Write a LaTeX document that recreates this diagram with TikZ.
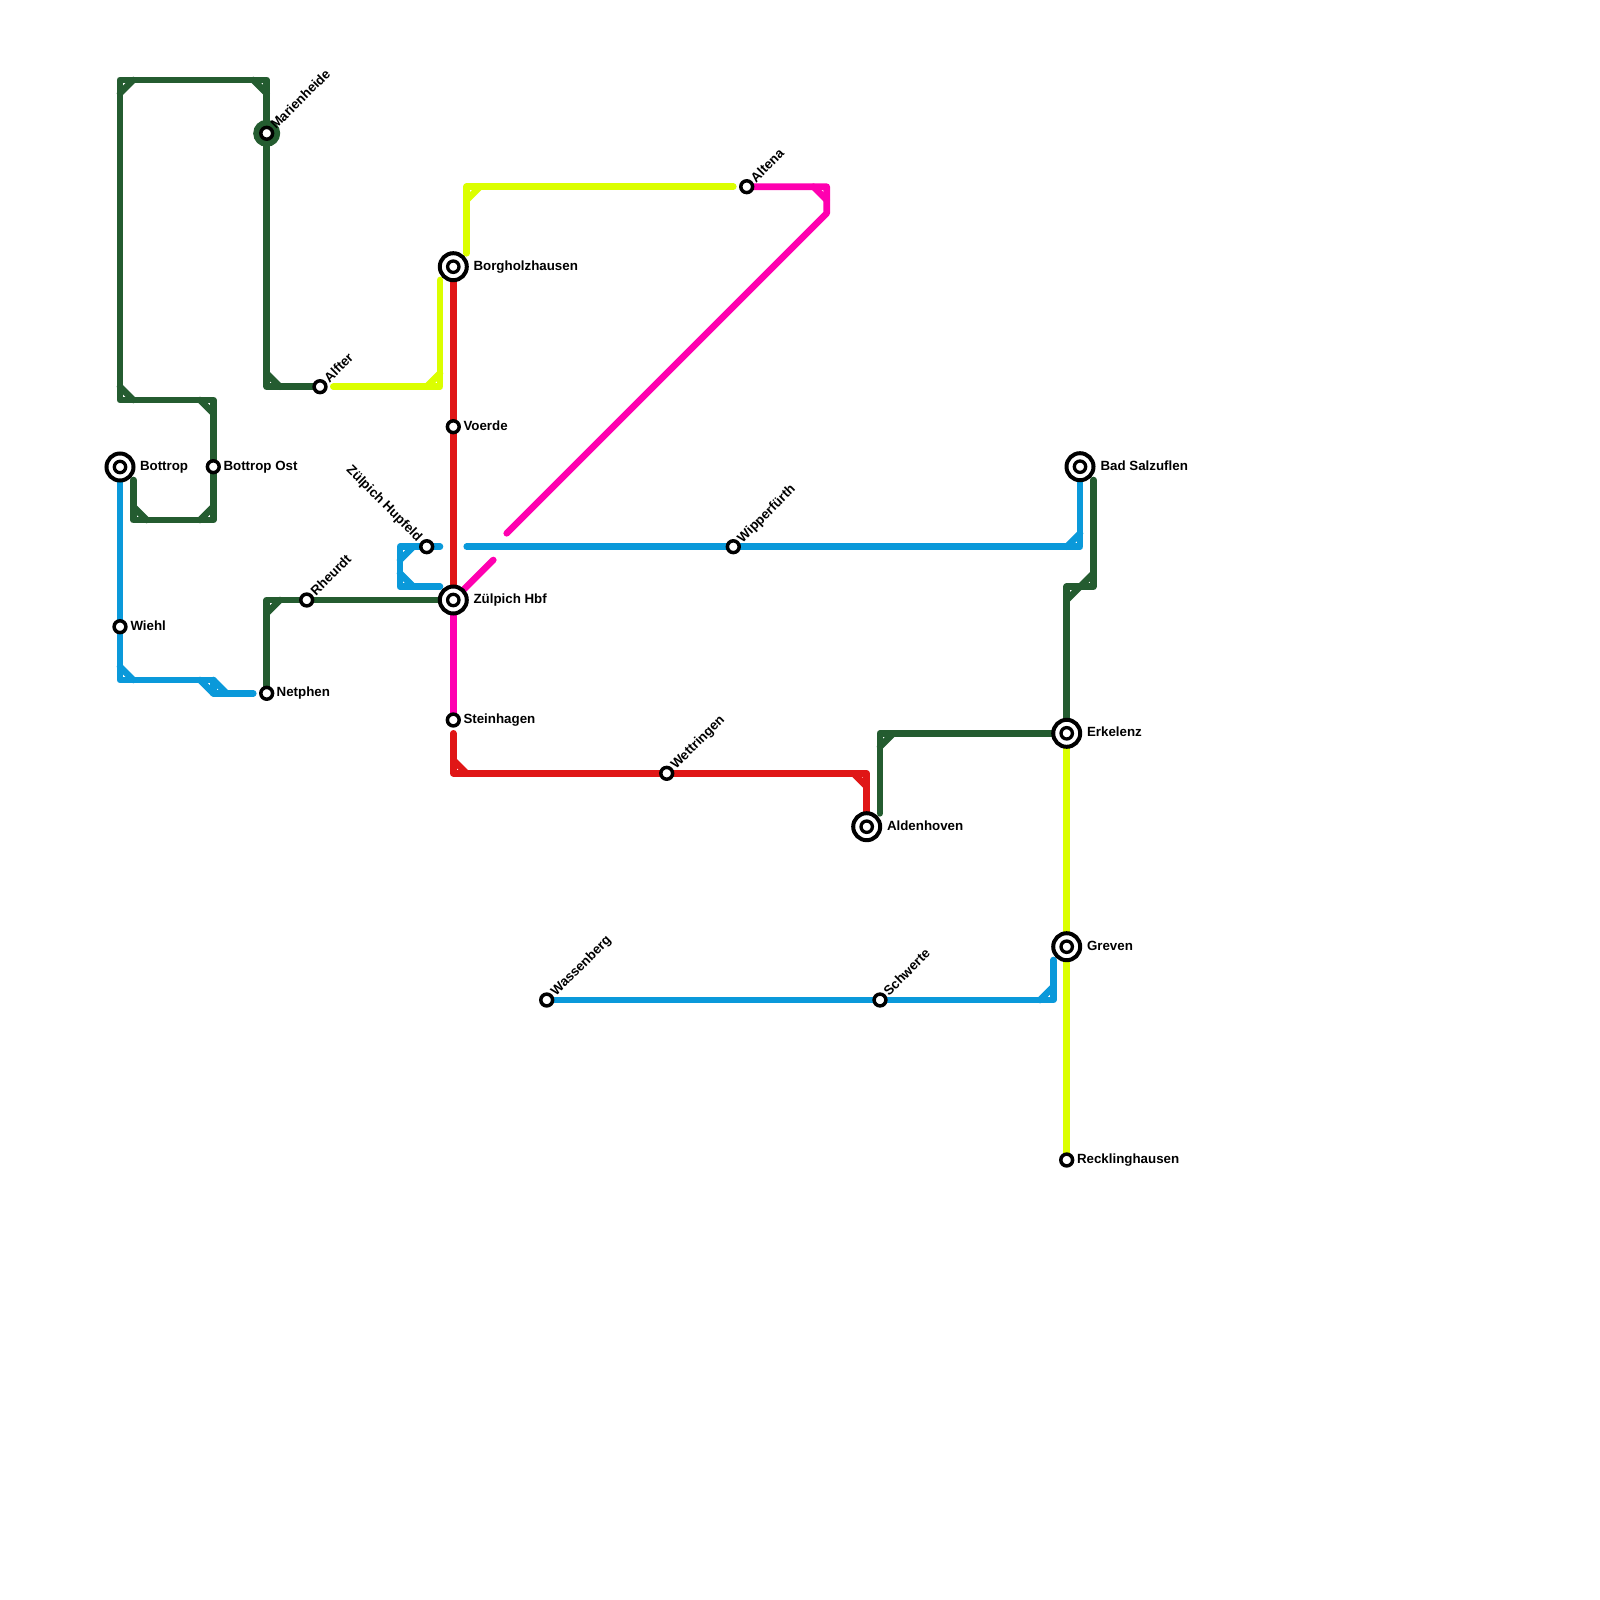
\documentclass[tikz,border=0pt]{standalone}
\usepackage{fontspec}
\setmainfont{Liberation Sans}
\usetikzlibrary{calc}
\pgfdeclarelayer{lines}
\pgfsetlayers{lines,main}
\definecolor{lgreen}{HTML}{245C30}
\definecolor{lblue}{HTML}{0A99DA}
\definecolor{lred}{HTML}{E01616}
\definecolor{lpink}{HTML}{FF00B0}
\definecolor{lyellow}{HTML}{DBFF00}
\tikzset{
  x=1pt,y=-1pt,
  metro/.style={line width=6.6pt,line cap=round,line join=round},
  stn/.style={circle,draw=black,fill=white,line width=3.5pt,minimum size=11.8pt,inner sep=0pt,outer sep=0pt},
  hub/.style={circle,draw=black,fill=white,line width=4pt,minimum size=27pt,inner sep=0pt,outer sep=0pt,
    path picture={\draw[line width=3.3pt,black,fill=white] (path picture bounding box.center) circle[radius=5.7pt];}},
  greenhub/.style={circle,draw=lgreen,fill=lgreen,line width=1pt,minimum size=26pt,inner sep=0pt,outer sep=0pt,
    path picture={\draw[line width=3.5pt,black,fill=white] (path picture bounding box.center) circle[radius=5.9pt];}},
  lbl/.style={font=\bfseries\fontsize{13.33}{15}\selectfont,text=black,inner sep=0pt,outer sep=0pt,anchor=base west},
  lblup/.style={lbl,rotate=45},
  lbldown/.style={font=\bfseries\fontsize{13.33}{15}\selectfont,text=black,inner sep=0pt,outer sep=0pt,anchor=base east,rotate=-45},
}
\newcommand{\chord}[4]{\draw[metro,#1] ($(#2)+(#3)$) -- ($(#2)+(#4)$);}
\begin{document}
\begin{tikzpicture}
\useasboundingbox (0,0) rectangle (1600,1600);
% stations
\node[hub] (bottrop) at (120,467) {};
\node[greenhub] (marien) at (266.7,133.3) {};
\node[stn] (bottost) at (213.3,466.7) {};
\node[stn] (wiehl) at (120,626.7) {};
\node[stn] (netphen) at (266.7,693.3) {};
\node[stn] (rheurdt) at (306.7,600) {};
\node[stn] (alfter) at (320,386.7) {};
\node[stn] (hupfeld) at (426.7,546.7) {};
\node[hub] (hbf) at (453.3,600) {};
\node[hub] (borg) at (453.3,266.7) {};
\node[stn] (voerde) at (453.3,426.7) {};
\node[stn] (stein) at (453.3,720) {};
\node[stn] (wassen) at (546.7,1000) {};
\node[stn] (wett) at (666.7,773.3) {};
\node[stn] (altena) at (746.7,186.7) {};
\node[stn] (wipper) at (733.3,546.7) {};
\node[stn] (schwerte) at (880,1000) {};
\node[hub] (alden) at (866.7,826.7) {};
\node[hub] (erkelenz) at (1066.7,733.3) {};
\node[hub] (greven) at (1066.7,946.7) {};
\node[stn] (reck) at (1066.7,1160) {};
\node[hub] (salz) at (1080,466.7) {};
% labels
\node[lbl] (t1) at (140,470) {Bottrop};
\node[lbl] (t2) at (223.5,470) {Bottrop Ost};
\node[lbl] (t3) at (130.5,630) {Wiehl};
\node[lbl] (t4) at (276.7,696.6) {Netphen};
\node[lbl] (t5) at (473.5,270) {Borgholzhausen};
\node[lbl] (t6) at (463.5,430) {Voerde};
\node[lbl] (t7) at (473.5,603.3) {Zülpich Hbf};
\node[lbl] (t8) at (463.5,723.3) {Steinhagen};
\node[lbl] (t9) at (887,830) {Aldenhoven};
\node[lbl] (t10) at (1087,736.6) {Erkelenz};
\node[lbl] (t11) at (1087,950) {Greven};
\node[lbl] (t12) at (1077,1163.3) {Recklinghausen};
\node[lbl] (t13) at (1100.5,470) {Bad Salzuflen};
\node[lblup] (t14) at (276,130) {Marienheide};
\node[lblup] (t15) at (316,596.5) {Rheurdt};
\node[lblup] (t16) at (329.5,383) {Alfter};
\node[lblup] (t17) at (556,996.5) {Wassenberg};
\node[lblup] (t18) at (676,769.8) {Wettringen};
\node[lblup] (t19) at (756,183) {Altena};
\node[lblup] (t20) at (742.6,543.2) {Wipperfürth};
\node[lblup] (t21) at (889,996.5) {Schwerte};
\node[lbldown] (t22) at (417,542) {Zülpich Hupfeld};
% free ends and corners
\coordinate (ga) at (266.7,80);
\coordinate (gb) at (120,80);
\coordinate (gc) at (120,400);
\coordinate (gd) at (213.3,400);
\coordinate (ge) at (213.3,520);
\coordinate (gf) at (133.3,520);
\coordinate (gg) at (133.3,480);
\coordinate (gh) at (266.7,386.7);
\coordinate (gi) at (266.7,600);
\coordinate (gj) at (1093.3,480);
\coordinate (gk) at (1093.3,586.7);
\coordinate (gl) at (1066.7,586.7);
\coordinate (gm) at (880,733.3);
\coordinate (gn) at (880,813.3);
\coordinate (ba) at (120,680);
\coordinate (bb) at (213.3,680);
\coordinate (bc) at (213.3,693.3);
\coordinate (bd) at (253.3,693.3);
\coordinate (be) at (440,546.7);
\coordinate (bf) at (400,546.7);
\coordinate (bg) at (400,586.7);
\coordinate (bh) at (440,586.7);
\coordinate (bi) at (466.7,546.7);
\coordinate (bj) at (1080,546.7);
\coordinate (bk) at (1053.3,1000);
\coordinate (bl) at (1053.3,960);
\coordinate (ya) at (333.3,386.7);
\coordinate (yb) at (440,386.7);
\coordinate (yc) at (440,280);
\coordinate (yd) at (466.7,253.3);
\coordinate (ye) at (466.7,186.7);
\coordinate (yf) at (733.3,186.7);
\coordinate (ra) at (453.3,733.3);
\coordinate (rb) at (453.3,773.3);
\coordinate (rc) at (866.7,773.3);
\coordinate (pa) at (493.3,560);
\coordinate (pb) at (506.7,533.3);
\coordinate (pc) at (826.7,213.3);
\coordinate (pd) at (826.7,186.7);
\begin{pgfonlayer}{lines}
% green
\draw[metro,lgreen] (marien) -- (ga) -- (gb) -- (gc) -- (gd) -- (bottost) -- (ge) -- (gf) -- (gg);
\chord{lgreen}{ga}{-13.3,0}{0,13.3}
\chord{lgreen}{gb}{13.3,0}{0,13.3}
\chord{lgreen}{gc}{0,-13.3}{13.3,0}
\chord{lgreen}{gd}{-13.3,0}{0,13.3}
\chord{lgreen}{ge}{0,-13.3}{-13.3,0}
\chord{lgreen}{gf}{0,-13.3}{13.3,0}
\draw[metro,lgreen] (marien) -- (gh) -- (alfter);
\chord{lgreen}{gh}{0,-13.3}{13.3,0}
\draw[metro,lgreen] (netphen) -- (gi) -- (rheurdt) -- (hbf);
\chord{lgreen}{gi}{0,13.3}{13.3,0}
\draw[metro,lgreen] (gj) -- (gk) -- (gl) -- (erkelenz);
\chord{lgreen}{gk}{0,-13.3}{-13.3,0}
\chord{lgreen}{gl}{13.3,0}{0,13.3}
\draw[metro,lgreen] (erkelenz) -- (gm) -- (gn);
\chord{lgreen}{gm}{13.3,0}{0,13.3}
% blue
\draw[metro,lblue] (bottrop) -- (wiehl) -- (ba) -- (bb) -- (bc) -- (bd);
\chord{lblue}{ba}{0,-13.3}{13.3,0}
\chord{lblue}{bb}{-13.3,0}{0,13.3}
\chord{lblue}{bc}{0,-13.3}{13.3,0}
\draw[metro,lblue] (be) -- (hupfeld) -- (bf) -- (bg) -- (bh);
\chord{lblue}{bf}{13.3,0}{0,13.3}
\chord{lblue}{bg}{0,-13.3}{13.3,0}
\draw[metro,lblue] (bi) -- (wipper) -- (bj) -- (salz);
\chord{lblue}{bj}{-13.3,0}{0,-13.3}
\draw[metro,lblue] (wassen) -- (schwerte) -- (bk) -- (bl);
\chord{lblue}{bk}{-13.3,0}{0,-13.3}
% yellow
\draw[metro,lyellow] (reck) -- (greven) -- (erkelenz);
\draw[metro,lyellow] (ya) -- (yb) -- (yc);
\chord{lyellow}{yb}{-13.3,0}{0,-13.3}
\draw[metro,lyellow] (yd) -- (ye) -- (yf);
\chord{lyellow}{ye}{13.3,0}{0,13.3}
% red
\draw[metro,lred] (borg) -- (voerde) -- (hbf);
\draw[metro,lred] (ra) -- (rb) -- (wett) -- (rc) -- (alden);
\chord{lred}{rb}{0,-13.3}{13.3,0}
\chord{lred}{rc}{-13.3,0}{0,13.3}
% magenta
\draw[metro,lpink] (hbf) -- (stein);
\draw[metro,lpink] (hbf) -- (pa);
\draw[metro,lpink] (pb) -- (pc) -- (pd) -- (altena);
\chord{lpink}{pd}{-13.3,0}{0,13.3}
\end{pgfonlayer}
\end{tikzpicture}
\end{document}
